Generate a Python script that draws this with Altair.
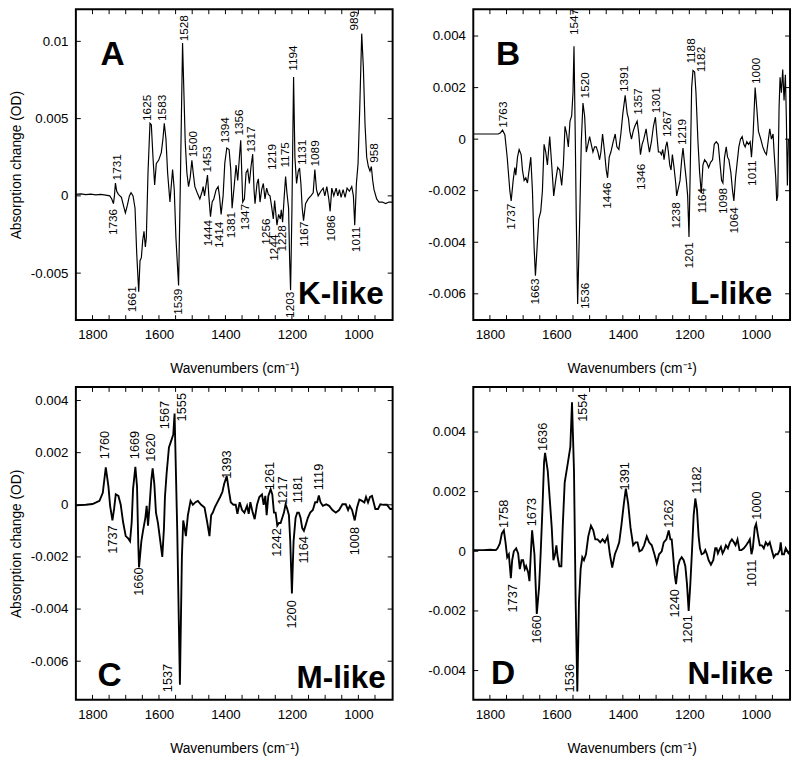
import altair as alt
import pandas as pd

FONT = "Liberation Sans"
XLO, XHI = 897, 1850
XTICKS = [1800, 1600, 1400, 1200, 1000]
XMINOR = [1800, 1750, 1700, 1650, 1600, 1550, 1500, 1450, 1400, 1350, 1300,
          1250, 1200, 1150, 1100, 1050, 1000, 950]

# ---------------- Panel A : K-like ----------------
A_wn = [1850, 1835, 1820, 1805, 1790, 1775, 1760, 1748, 1742, 1737, 1734, 1731, 1727,
        1722, 1713, 1706, 1701, 1695, 1689, 1684, 1678, 1672, 1667, 1661, 1657, 1653,
        1649, 1645, 1641, 1638, 1633, 1627, 1623, 1618, 1613, 1608, 1601, 1593, 1588,
        1584, 1579, 1574, 1567, 1559, 1554, 1549, 1541, 1536, 1529, 1521, 1516, 1511,
        1506, 1501, 1497, 1492, 1485, 1477, 1470, 1467, 1463, 1459, 1454, 1450, 1445,
        1440, 1435, 1428, 1422, 1418, 1413, 1407, 1402, 1396, 1389, 1384, 1380, 1373,
        1368, 1363, 1358, 1354, 1348, 1343, 1338, 1333, 1328, 1323, 1318, 1314, 1311,
        1305, 1301, 1296, 1291, 1286, 1281, 1276, 1271, 1266, 1261, 1256, 1252, 1249,
        1245, 1240, 1235, 1232, 1228, 1223, 1219, 1215, 1210, 1207, 1204, 1200, 1195,
        1191, 1186, 1181, 1177, 1173, 1169, 1165, 1159, 1151, 1143, 1136, 1131, 1126,
        1121, 1113, 1106, 1101, 1095, 1089, 1085, 1080, 1074, 1067, 1062, 1057, 1052,
        1046, 1040, 1034, 1027, 1020, 1015, 1011, 1006, 1001, 996, 990, 985, 980, 975,
        970, 965, 961, 957, 953, 945, 938, 928, 918, 908, 897]
A_val = [0.0001, 0.00013, 0.00008, 0.00011, 0.00007, 0.0001, 0.00005, 0.0, -0.0002,
         -0.0005, 0.0, 0.00083, 0.0003, 0.0001, -0.0001, -0.0007, -0.0011, -0.0006, 0.0,
         0.0002, 0.0, -0.0008, -0.0037, -0.0062, -0.0042, -0.0040, -0.0029, -0.0023,
         -0.0033, -0.0027, 0.0015, 0.0047, 0.0046, 0.0025, 0.0007, 0.0021, 0.0023,
         0.0028, 0.0037, 0.0047, 0.0037, 0.0015, -0.0004, 0.0017, 0.0004, -0.0027,
         -0.0058, 0.0004, 0.0099, 0.0035, 0.0015, 0.0006, 0.0012, 0.0023, 0.0015,
         0.0006, 0.0002, -0.0002, 0.0003, 0.0006, 0.0, 0.0006, 0.00135, 0.0, -0.00135,
         -0.0004, -0.0002, 0.0004, 0.0006, 0.0, -0.0012, 0.0, 0.0021, 0.0031, 0.003,
         0.0017, -0.0008, 0.0008, 0.002, 0.001, 0.0025, 0.0036, -0.0004, -0.0002,
         0.0015, 0.0017, 0.0008, 0.0019, 0.0027, 0.0004, -0.0005, 0.0008, 0.0011,
         -0.0004, 0.0004, 0.0008, -0.0002, 0.0005, 0.0001, 0.0, -0.0007, -0.0015,
         -0.0003, -0.001, -0.0019, -0.0012, -0.0015, -0.0009, -0.0017, 0.0, 0.00125,
         0.0002, -0.0008, -0.004, -0.0061, -0.001, 0.0077, 0.0025, 0.0008, 0.0016,
         0.0018, 0.0008, -0.0008, -0.0016, -0.0005, -0.0002, 0.0, 0.0002, 0.0017,
         0.0004, 0.0, 0.0003, 0.0005, 0.0, 0.0006, -0.0002, -0.001, 0.0005, 0.0, 0.0005,
         0.0, 0.0004, -0.0001, 0.0004, -0.0001, 0.0005, 0.0003, 0.0006, 0.0, -0.0019,
         0.0008, 0.0021, 0.0056, 0.0105, 0.0083, 0.0046, 0.0025, 0.0019, 0.0016, 0.0019,
         0.001, 0.0004, -0.0002, -0.0004, -0.0004, -0.0005, -0.0004, -0.0004]
A_up_t = ["1731", "1625", "1583", "1528", "1500", "1453", "1394", "1356", "1317",
          "1219", "1175", "1194", "1131", "1089", "989", "958"]
A_up_x = [1727, 1635, 1592, 1525, 1498, 1455, 1401, 1358, 1324, 1260, 1222, 1196,
          1169, 1131, 1013, 952]
A_up_y = [0.0010, 0.00485, 0.00485, 0.0100, 0.0025, 0.00152, 0.0034, 0.0039, 0.0028,
          0.00167, 0.00183, 0.0081, 0.0020, 0.0019, 0.0107, 0.00214]
A_dn_t = ["1736", "1661", "1539", "1444", "1414", "1381", "1347", "1256", "1244",
          "1228", "1203", "1167", "1086", "1011"]
A_dn_x = [1737, 1681, 1542, 1453, 1419, 1383, 1341, 1278, 1255, 1230, 1205, 1163,
          1082, 1008]
A_dn_y = [-0.00084, -0.00584, -0.0060, -0.00156, -0.00167, -0.00104, -0.00052,
          -0.00146, -0.0025, -0.0019, -0.0062, -0.00167, -0.00125, -0.0020]
A_yticks = [0.01, 0.005, 0, -0.005]

# ---------------- Panel B : L-like ----------------
B_wn = [1850, 1800, 1775, 1768, 1762, 1755, 1748, 1740, 1736, 1730, 1725, 1722, 1717,
        1712, 1706, 1702, 1697, 1692, 1687, 1682, 1677, 1672, 1667, 1663, 1658, 1653,
        1647, 1642, 1637, 1632, 1627, 1620, 1614, 1608, 1602, 1596, 1590, 1584, 1579,
        1574, 1569, 1564, 1559, 1554, 1550, 1547, 1543, 1540, 1536, 1530, 1525, 1520,
        1515, 1510, 1505, 1500, 1495, 1490, 1485, 1480, 1475, 1470, 1466, 1461, 1455,
        1450, 1446, 1441, 1436, 1429, 1423, 1418, 1412, 1406, 1400, 1393, 1387, 1383,
        1379, 1374, 1369, 1364, 1357, 1352, 1347, 1342, 1337, 1330, 1325, 1320, 1314,
        1308, 1302, 1298, 1293, 1288, 1284, 1280, 1276, 1271, 1267, 1263, 1259, 1255,
        1251, 1246, 1241, 1238, 1233, 1228, 1223, 1219, 1214, 1209, 1205, 1201, 1197,
        1193, 1189, 1184, 1180, 1174, 1169, 1164, 1159, 1154, 1148, 1142, 1136, 1130,
        1125, 1119, 1113, 1108, 1103, 1099, 1094, 1089, 1085, 1081, 1075, 1070, 1066,
        1061, 1056, 1051, 1046, 1041, 1036, 1032, 1027, 1022, 1017, 1013, 1008, 1002,
        997, 992, 985, 979, 973, 968, 963, 958, 953, 948, 945, 940, 937, 934, 930, 927,
        923, 919, 915, 911, 908, 905, 902]
B_val = [0.0002, 0.0002, 0.0002, 0.00025, 0.00035, 0.00017, -0.0007, -0.002, -0.0024,
         -0.0016, -0.0011, -0.0014, -0.0007, -0.0004, -0.0006, -0.0012, -0.0016,
         -0.0015, -0.0017, -0.0012, -0.0007, -0.002, -0.0042, -0.0053, -0.0042, -0.0031,
         -0.0028, -0.002, -0.0002, -0.0005, -0.001, 0.0001, -0.001, -0.0022, -0.0016,
         -0.0011, -0.0012, -0.0018, -0.001, 0.0005, 0.0002, -0.0003, 0.0007, 0.0009,
         0.0018, 0.0036, -0.0001, -0.0032, -0.0064, -0.0032, -0.0001, 0.0014, 0.0009,
         -0.0005, -0.0002, 0.0001, -0.0002, -0.0005, -0.0003, -0.0003, -0.0005, -0.0008,
         -0.0005, 0.0002, -0.0005, -0.0012, -0.0015, -0.0007, -0.0005, -0.0001, 0.0002,
         -0.0003, -0.0004, 0.0002, 0.001, 0.0017, 0.001, 0.0008, 0.0003, 0.0, 0.0003,
         0.0005, 0.0007, 0.0002, -0.0006, -0.0002, 0.0, 0.0004, -0.0001, -0.0005,
         -0.0001, 0.0005, 0.00085, 0.0002, -0.0005, -0.0005, -0.0006, -0.0004, -0.0008,
         -0.0003, -0.0001, -0.0005, -0.001, -0.0012, -0.0006, -0.0011, -0.0017, -0.0022,
         -0.0019, -0.0016, -0.0008, -0.00035, -0.001, -0.0016, -0.0022, -0.0038, -0.001,
         0.002, 0.00266, 0.0026, 0.0018, -0.0001, -0.0013, -0.0021, -0.001, -0.0008,
         -0.0009, -0.0011, -0.0009, -0.0008, -0.0002, -0.0001, -0.0002, -0.0009,
         -0.0016, -0.0017, -0.0007, -0.0003, -0.0007, -0.0008, -0.0013, -0.002, -0.0024,
         -0.0015, -0.0009, -0.0003, 0.0, 0.0001, -0.0002, -0.0003, -0.0001, -0.0002,
         -0.0001, -0.0007, 0.0002, 0.002, 0.0012, 0.0003, 0.0, -0.0003, -0.0005,
         -0.0006, -0.0001, 0.0004, 0.0, 0.0002, -0.0005, -0.0015, -0.0024, -0.0022,
         0.0012, 0.0024, 0.0018, 0.0027, 0.0015, 0.0025, 0.0008, -0.0018, 0.0]
B_up_t = ["1763", "1547", "1520", "1391", "1357", "1301", "1267", "1219", "1188",
          "1182", "1000"]
B_up_x = [1759, 1547, 1515, 1395, 1355, 1300, 1266, 1221, 1195, 1166, 1000]
B_up_y = [0.00044, 0.00404, 0.00158, 0.00183, 0.00095, 0.0010, 0.00008, -0.00023,
          0.00293, 0.0026, 0.00214]
B_dn_t = ["1737", "1663", "1536", "1446", "1346", "1238", "1201", "1164", "1098",
          "1064", "1011"]
B_dn_x = [1737, 1663, 1515, 1446, 1345, 1241, 1202, 1162, 1098, 1064, 1010]
B_dn_y = [-0.0025, -0.0054, -0.00557, -0.00168, -0.00095, -0.00245, -0.0040,
          -0.00189, -0.00189, -0.00264, -0.00083]
B_yticks = [0.004, 0.002, 0, -0.002, -0.004, -0.006]

# ---------------- Panel C : M-like ----------------
C_wn = [1850, 1820, 1800, 1789, 1779, 1769, 1760, 1752, 1747, 1740, 1735, 1730, 1722,
        1715, 1708, 1700, 1692, 1687, 1682, 1678, 1671, 1666, 1662, 1660, 1653, 1648,
        1641, 1637, 1633, 1629, 1623, 1619, 1614, 1609, 1603, 1597, 1590, 1585, 1582,
        1577, 1570, 1562, 1557, 1553, 1545, 1537, 1531, 1527, 1524, 1519, 1513, 1505,
        1498, 1490, 1483, 1473, 1463, 1455, 1448, 1443, 1438, 1432, 1424, 1416, 1409,
        1404, 1396, 1389, 1384, 1376, 1369, 1364, 1357, 1350, 1343, 1335, 1330, 1325,
        1318, 1312, 1305, 1298, 1290, 1285, 1280, 1276, 1271, 1264, 1259, 1254, 1249,
        1244, 1239, 1234, 1229, 1224, 1219, 1214, 1209, 1205, 1200, 1195, 1189, 1184,
        1179, 1174, 1169, 1164, 1159, 1152, 1145, 1137, 1130, 1124, 1119, 1114, 1107,
        1097, 1088, 1078, 1068, 1058, 1048, 1038, 1031, 1026, 1019, 1011, 1004, 997,
        989, 982, 977, 971, 965, 959, 954, 949, 941, 934, 924, 914, 904, 897]
C_val = [-0.00002, 0.0, 0.00003, 0.00009, 0.00015, 0.00046, 0.00144, 0.0007, -0.00004,
         -0.0006, -0.00016, 0.0004, 0.00034, 0.0, -0.00066, -0.0012, -0.0013, -0.0014,
         -0.00066, 0.0006, 0.00146, 0.0007, -0.0016, -0.0024, -0.0014, -0.001, -0.0005,
         -0.00004, -0.0008, -0.00016, 0.00096, 0.0014, 0.0008, -0.0003, -0.0007,
         -0.0013, -0.002, -0.0009, 0.0003, 0.0012, 0.0022, 0.0025, 0.0027, 0.0035,
         -0.001, -0.0069, -0.002, -0.0006, -0.0008, -0.0012, -0.0004, 0.00015, 0.0,
         0.0001, 0.00015, 0.0, -0.0001, -0.00066, -0.0012, -0.0004, -0.0003, -0.0001,
         0.0001, 0.0003, 0.0005, 0.0008, 0.0011, 0.0005, 0.0001, 0.0, 0.0, -0.00035,
         0.0001, -0.0002, -0.0003, -0.00004, -0.00035, 0.0001, -0.0003, -0.00055, 0.0,
         0.0003, 0.0004, 0.0, 0.00034, -0.0004, 0.00034, 0.0006, 0.0004, -0.0003,
         -0.0003, -0.0008, -0.0007, -0.0007, -0.0005, -0.0003, 0.00002, -0.00016,
         -0.0004, -0.0014, -0.0034, -0.0014, -0.0005, -0.0003, -0.0003, -0.0005,
         -0.0009, -0.001, -0.0008, -0.0005, -0.0003, -0.0002, 0.0001, 0.0001, 0.00036,
         0.0001, -0.00004, 0.00002, -0.00004, -0.0002, -0.0003, -0.0002, 0.00002,
         0.00002, -0.0002, -0.00004, -0.0002, -0.0006, -0.0001, 0.0002, 0.00015,
         0.00009, 0.0003, 0.00009, 0.0003, 0.00034, 0.00009, -0.00016, -0.00016,
         0.00002, 0.0, 0.0, -0.00016, -0.00016]
C_up_t = ["1760", "1669", "1620", "1567", "1555", "1393", "1261", "1217", "1181", "1119"]
C_up_x = [1761, 1671, 1623, 1582, 1532, 1394, 1266, 1226, 1182, 1119]
C_up_y = [0.00175, 0.00175, 0.00165, 0.0029, 0.0032, 0.0010, 0.00056, 0.0, 0.00006,
          0.00056]
C_dn_t = ["1737", "1660", "1537", "1242", "1164", "1200", "1008"]
C_dn_x = [1738, 1659, 1574, 1246, 1162, 1201, 1011]
C_dn_y = [-0.00079, -0.0024, -0.0061, -0.0009, -0.0012, -0.00366, -0.00085]
C_yticks = [0.004, 0.002, 0, -0.002, -0.004, -0.006]

# ---------------- Panel D : N-like ----------------
D_wn = [1848, 1820, 1800, 1782, 1777, 1770, 1764, 1758, 1753, 1748, 1743, 1737, 1733,
        1728, 1721, 1715, 1710, 1705, 1700, 1695, 1691, 1685, 1681, 1677, 1673, 1666,
        1661, 1659, 1652, 1647, 1642, 1637, 1634, 1626, 1619, 1614, 1609, 1604, 1600,
        1596, 1591, 1585, 1581, 1575, 1565, 1558, 1553, 1547, 1542, 1537, 1532, 1527,
        1522, 1517, 1511, 1504, 1496, 1489, 1483, 1476, 1468, 1461, 1454, 1446, 1439,
        1432, 1424, 1417, 1411, 1404, 1397, 1391, 1384, 1377, 1369, 1362, 1356, 1350,
        1343, 1336, 1328, 1321, 1313, 1305, 1298, 1291, 1283, 1277, 1269, 1262, 1257,
        1253, 1249, 1244, 1240, 1234, 1229, 1223, 1217, 1212, 1207, 1202, 1197, 1192,
        1187, 1182, 1177, 1172, 1168, 1163, 1157, 1152, 1147, 1142, 1135, 1128, 1122,
        1118, 1114, 1110, 1105, 1100, 1095, 1090, 1084, 1078, 1072, 1066, 1061, 1055,
        1049, 1043, 1036, 1029, 1023, 1018, 1013, 1009, 1003, 999, 993, 988, 982, 976,
        970, 964, 958, 952, 946, 940, 934, 928, 925, 921, 915, 910, 905, 900]
D_val = [0.00004, 0.00004, 0.00005, 0.00004, 0.0001, 0.00026, 0.0006, 0.0007, 0.0003,
         -0.0002, -0.0001, -0.0009, -0.0003, 0.0, 0.0001, -0.00007, -0.0006, -0.0003,
         -0.0003, -0.0006, -0.0005, -0.0007, -0.001, -0.0001, 0.0007, -0.0001, -0.0015,
         -0.0021, -0.0012, 0.0, 0.0014, 0.003, 0.0033, 0.0027, 0.0016, 0.0008, -0.0003,
         -0.0001, 0.0002, -0.0002, -0.0005, -0.0005, 0.0008, 0.0023, 0.003, 0.0035,
         0.005, 0.0027, -0.0017, -0.0047, -0.0017, -0.0006, -0.0002, -0.0003, -0.0001,
         0.0005, 0.00086, 0.0007, 0.0004, 0.0004, 0.0003, 0.0004, 0.0003, 0.0005,
         -0.0001, -0.00055, -0.0001, 0.0001, 0.0003, 0.0009, 0.0016, 0.0021, 0.0016,
         0.0008, 0.0002, 0.0003, 0.0003, 0.0, 0.00004, 0.0002, 0.0005, 0.0003, 0.0002,
         -0.0001, -0.0004, -0.0001, 0.0, 0.0003, 0.0004, 0.0007, 0.0004, 0.0004,
         -0.0001, -0.0008, -0.0011, -0.0005, -0.0003, -0.0002, -0.0003, -0.0005,
         -0.0011, -0.002, -0.0011, 0.0, 0.0012, 0.00177, 0.0014, 0.0005, 0.0001,
         -0.0001, -0.00007, 0.00004, -0.0001, -0.0003, -0.00045, -0.0003, 0.0001,
         0.0001, -0.00007, 0.00004, 0.00015, -0.00007, 0.00004, 0.0002, 0.0001, 0.0003,
         0.0004, 0.0003, 0.0002, 0.0004, 0.00004, 0.00004, 0.0001, 0.0002, 0.0003,
         0.0004, -0.0001, 0.0001, 0.0008, 0.00092, 0.0005, 0.0002, 0.0002, 0.0001,
         0.0003, 0.0002, 0.0003, 0.00004, -0.0002, -0.0001, -0.0001, 0.00004, 0.0003,
         -0.0001, -0.0001, 0.0001, 0.0, -0.0001]
D_up_t = ["1758", "1673", "1636", "1554", "1391", "1262", "1182", "1000"]
D_up_x = [1757, 1674, 1639, 1520, 1392, 1261, 1177, 997]
D_up_y = [0.00078, 0.00084, 0.00336, 0.00434, 0.00204, 0.00079, 0.00193, 0.00106]
D_dn_t = ["1737", "1660", "1536", "1240", "1201", "1011"]
D_dn_x = [1731, 1659, 1560, 1244, 1204, 1012]
D_dn_y = [-0.0011, -0.00214, -0.00378, -0.00127, -0.00214, -0.00028]
D_yticks = [0.004, 0.002, 0, -0.002, -0.004]


def panel(wn, val, up, dn, ydom, yticks, letter, state, W, H, ytitle, lw, fs,
          letter_pos, state_pos):
    xs = alt.Scale(domain=[XLO, XHI], reverse=True, nice=False, zero=False)
    ys = alt.Scale(domain=ydom, nice=False, zero=False)
    yax = dict(values=yticks, labelExpr="datum.value + ''", ticks=False, domain=False,
               grid=False, labelPadding=8, labelFontSize=13.5, labelFont=FONT,
               labelColor="black")
    if ytitle:
        yax.update(title=ytitle, titleFontSize=14, titleFont=FONT,
                   titleFontWeight="normal", titlePadding=7, titleColor="black")
    else:
        yax.update(title=None)
    line = alt.Chart(pd.DataFrame({"wn": wn, "val": val})).mark_line(
        color="black", strokeWidth=lw, clip=True).encode(
        x=alt.X("wn:Q", scale=xs, axis=alt.Axis(
            values=XTICKS, format="d", ticks=False, domain=False, grid=False,
            labelPadding=8, labelFontSize=13.5, labelFont=FONT, labelColor="black",
            title="Wavenumbers (cm⁻¹)", titleFontSize=14, titleFont=FONT,
            titleFontWeight="normal", titlePadding=21, titleColor="black")),
        y=alt.Y("val:Q", scale=ys, axis=alt.Axis(**yax)))
    layers = [line]
    for (t, xv, yv), al in ((up, "left"), (dn, "right")):
        layers.append(alt.Chart(pd.DataFrame({"t": t, "x": xv, "y": yv})).mark_text(
            angle=270, align=al, baseline="middle", fontSize=fs, font=FONT,
            color="black", clip=True).encode(
            x=alt.X("x:Q", scale=xs),
            y=alt.Y("y:Q", scale=ys),
            text="t:N"))
    xt = pd.DataFrame({"v": XMINOR})
    yt = pd.DataFrame({"v": yticks})
    layers.append(alt.Chart(xt).mark_rule(color="black", strokeWidth=1).encode(
        x=alt.X("v:Q", scale=xs), y=alt.value(H), y2=alt.value(H - 5)))
    layers.append(alt.Chart(xt).mark_rule(color="black", strokeWidth=1).encode(
        x=alt.X("v:Q", scale=xs), y=alt.value(0), y2=alt.value(5)))
    layers.append(alt.Chart(yt).mark_rule(color="black", strokeWidth=1).encode(
        y=alt.Y("v:Q", scale=ys), x=alt.value(0), x2=alt.value(5)))
    layers.append(alt.Chart(yt).mark_rule(color="black", strokeWidth=1).encode(
        y=alt.Y("v:Q", scale=ys), x=alt.value(W - 5), x2=alt.value(W)))
    layers.append(alt.Chart(pd.DataFrame({"t": [letter]})).mark_text(
        align="left", baseline="alphabetic", fontSize=34, fontWeight="bold",
        font=FONT, color="black").encode(
        x=alt.value(letter_pos[0]), y=alt.value(letter_pos[1]), text="t:N"))
    layers.append(alt.Chart(pd.DataFrame({"t": [state]})).mark_text(
        align="right", baseline="alphabetic", fontSize=32, fontWeight="bold",
        font=FONT, color="black").encode(
        x=alt.value(state_pos[0]), y=alt.value(state_pos[1]), text="t:N"))
    return alt.layer(*layers).properties(width=W, height=H)


W = 322
HT, HB = 316, 318
pA = panel(A_wn, A_val, (A_up_t, A_up_x, A_up_y), (A_dn_t, A_dn_x, A_dn_y),
           [-0.00804, 0.01208], A_yticks, "A", "K-like", W, HT,
           "Absorption change (OD)", 1.2, 12, (25, 57), (313, 300))
pB = panel(B_wn, B_val, (B_up_t, B_up_x, B_up_y), (B_dn_t, B_dn_x, B_dn_y),
           [-0.00702, 0.00504], B_yticks, "B", "L-like", W, HT,
           None, 1.2, 12, (23, 57), (304, 300))
pC = panel(C_wn, C_val, (C_up_t, C_up_x, C_up_y), (C_dn_t, C_dn_x, C_dn_y),
           [-0.00748, 0.00452], C_yticks, "C", "M-like", W, HB,
           "Absorption change (OD)", 1.9, 13, (22, 304), (315, 306))
pD = panel(D_wn, D_val, (D_up_t, D_up_x, D_up_y), (D_dn_t, D_dn_x, D_dn_y),
           [-0.00498, 0.00551], D_yticks, "D", "N-like", W, HB,
           None, 1.9, 13, (18, 302), (305, 302))

chart = alt.concat(pA, pB, pC, pD, columns=2, spacing={"row": 8, "column": 32}
                   ).properties(padding={"top": -7, "left": 0, "right": 0, "bottom": 0}
                                ).configure_view(stroke="black", strokeWidth=2)

chart.save("out.html", embed_options={"renderer": "svg", "actions": False})
